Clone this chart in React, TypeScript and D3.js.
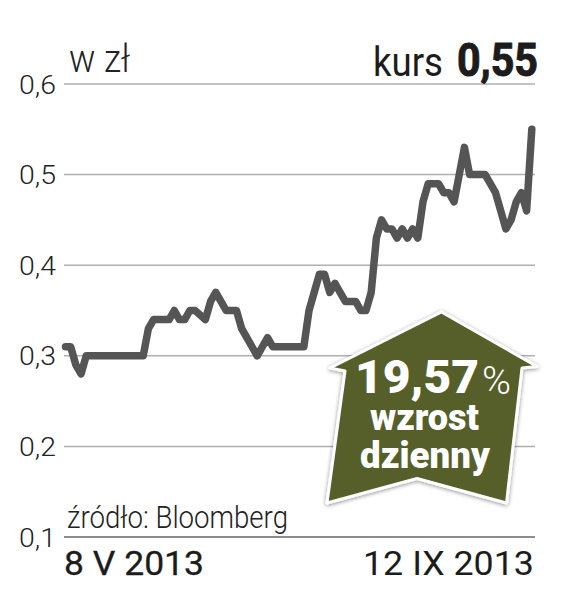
import React from "react";
import * as d3 from "d3";

const prices = [
  0.31, 0.31, 0.29, 0.28, 0.3, 0.3, 0.3, 0.3, 0.3, 0.3, 0.3, 0.3, 0.3, 0.3, 0.3, 0.3,
  0.33, 0.34, 0.34, 0.34, 0.34, 0.35, 0.34, 0.34, 0.35, 0.35, 0.345, 0.34, 0.36, 0.37,
  0.36, 0.35, 0.35, 0.35, 0.33, 0.32, 0.31, 0.3, 0.31, 0.32, 0.31, 0.31, 0.31, 0.31,
  0.31, 0.31, 0.31, 0.35, 0.37, 0.39, 0.39, 0.37, 0.38, 0.37, 0.36, 0.36, 0.36, 0.35,
  0.35, 0.37, 0.43, 0.45, 0.44, 0.44, 0.43, 0.44, 0.43, 0.44, 0.43, 0.47, 0.49, 0.49,
  0.49, 0.48, 0.48, 0.47, 0.5, 0.53, 0.5, 0.5, 0.5, 0.5, 0.49, 0.48, 0.46, 0.44, 0.45,
  0.47, 0.48, 0.46, 0.55,
];
const yTicks = [0.6, 0.5, 0.4, 0.3, 0.2, 0.1];
const startLabel = "8 V 2013";
const endLabel = "12 IX 2013";
const unitLabel = "w zł";
const sourceLabel = "źródło: Bloomberg";
const priceLabel = "kurs";
const priceValue = "0,55";
const changeValue = "19,57";
const changeLines = ["wzrost", "dzienny"];

const badge: [number, number][] = [
  [441.5, 312], [537, 366.5], [522, 368], [506.5, 503], [417, 478.5],
  [327, 503], [345, 371], [330, 368],
];

const sans = "Roboto, sans-serif";
const narrow = "'Liberation Sans Narrow', Roboto, sans-serif";

export default function App() {
  const x = d3.scaleLinear().domain([0, prices.length - 1]).range([65.5, 531.8]);
  const y = d3.scaleLinear().domain([0.1, 0.6]).range([537, 84]);
  const line = d3.line<number>().x((_, i) => x(i)).y((d) => y(d));
  const badgePath = d3.line()(badge) + "Z";
  const fmt = (t: number) => t.toFixed(1).replace(".", ",");
  return (
    <svg width={569} height={595} style={{ position: "fixed", left: 0, top: 0, background: "#fff" }}>
      <defs>
        <filter id="sh" x="-10%" y="-10%" width="120%" height="120%">
          <feDropShadow dx="0" dy="1" stdDeviation="2" floodColor="#000" floodOpacity="0.45" />
        </filter>
      </defs>
      {yTicks.map((t) => (
        <g key={t}>
          <line x1={64} x2={535} y1={y(t)} y2={y(t)} stroke={t === 0.1 ? "#8c8c8c" : "#b0b0b0"} strokeWidth={t === 0.1 ? 2 : 1.5} />
          <text x={19} y={y(t) + 9.5} fontFamily={sans} fontWeight={300} fontSize={26} fill="#222" textLength={37} lengthAdjust="spacingAndGlyphs">
            {fmt(t)}
          </text>
        </g>
      ))}
      <path d={line(prices) ?? ""} fill="none" stroke="#555555" strokeWidth={7.5} strokeLinejoin="round" strokeLinecap="round" />
      <text x={69} y={72} fontFamily={sans} fontWeight={300} fontSize={38} fill="#222" textLength={61} lengthAdjust="spacingAndGlyphs">{unitLabel}</text>
      <text x={373} y={76} fontFamily={narrow} fontSize={41} fill="#1c1c1c" textLength={70} lengthAdjust="spacingAndGlyphs">{priceLabel}</text>
      <text x={457} y={76} fontFamily={narrow} fontWeight={700} fontSize={46} stroke="#1c1c1c" strokeWidth={1} fill="#1c1c1c" textLength={81} lengthAdjust="spacingAndGlyphs">{priceValue}</text>
      <text x={67} y={528} fontFamily={sans} fontWeight={300} fontSize={32} fill="#222" textLength={221} lengthAdjust="spacingAndGlyphs">{sourceLabel}</text>
      <text x={64} y={575} fontFamily={sans} fontWeight={400} fontSize={33} fill="#1c1c1c" stroke="#1c1c1c" strokeWidth={0.3} textLength={140} lengthAdjust="spacingAndGlyphs">{startLabel}</text>
      <text x={363} y={575} fontFamily={sans} fontWeight={400} fontSize={33} fill="#1c1c1c" textLength={171} lengthAdjust="spacingAndGlyphs">{endLabel}</text>
      <path d={badgePath} fill="#565e2c" stroke="#fff" strokeWidth={3} strokeLinejoin="round" filter="url(#sh)" />
      <text x={355} y={393} fontFamily={sans} fontWeight={900} fontSize={46} fill="#fff" textLength={124} lengthAdjust="spacingAndGlyphs">{changeValue}</text>
      <text x={482} y={394} fontFamily={sans} fontWeight={300} fontSize={38} fill="#fff" textLength={29} lengthAdjust="spacingAndGlyphs">%</text>
      <text x={370} y={430} fontFamily={sans} fontWeight={900} fontSize={36} fill="#fff" textLength={109} lengthAdjust="spacingAndGlyphs">{changeLines[0]}</text>
      <text x={360} y={468} fontFamily={sans} fontWeight={900} fontSize={36} fill="#fff" textLength={130} lengthAdjust="spacingAndGlyphs">{changeLines[1]}</text>
    </svg>
  );
}
